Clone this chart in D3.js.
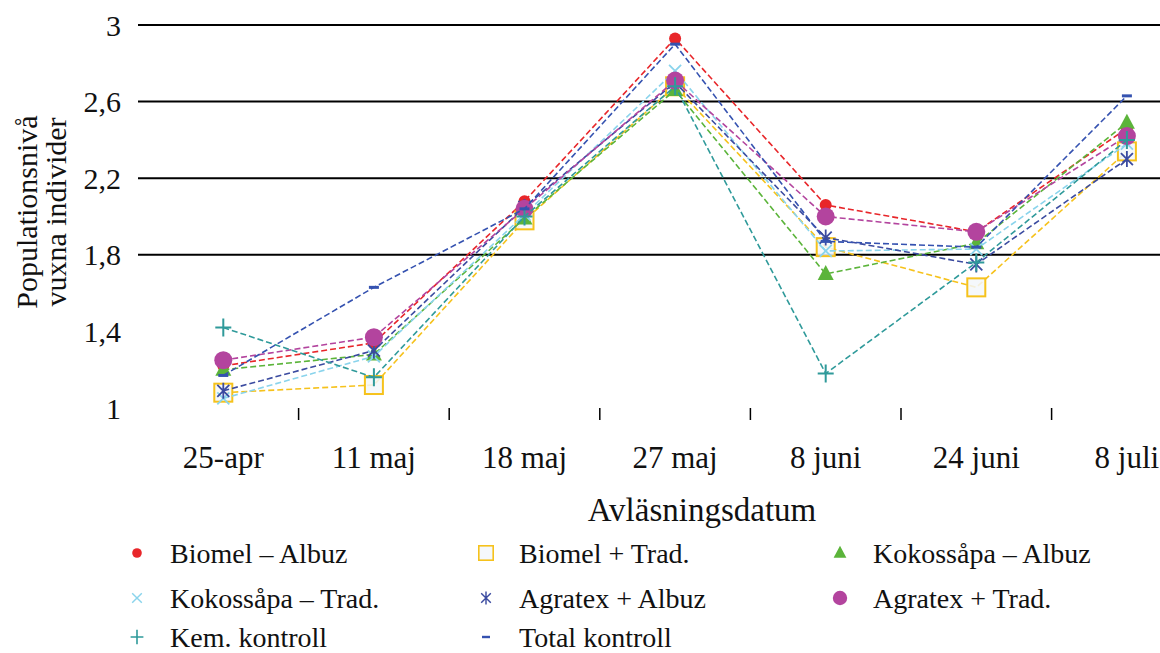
<!DOCTYPE html>
<html>
<head>
<meta charset="utf-8">
<script src="https://cdn.jsdelivr.net/npm/d3@7"></script>
<style>
  body { margin: 0; background: #fff; }
  svg text { font-family: "Liberation Serif", "Times New Roman", serif; fill: #111; }
</style>
</head>
<body>
<div id="chart"></div>
<script>
// Data
var dates = ["25-apr", "11 maj", "18 maj", "27 maj", "8 juni", "24 juni", "8 juli"];
var yTicks = [1, 1.4, 1.8, 2.2, 2.6, 3];
var gridValues = [1.8, 2.2, 2.6, 3];

var biomelAlbuz   = [1.22, 1.34, 2.08, 2.93, 2.06, 1.92, 2.46];
var biomelTrad    = [1.08, 1.12, 1.98, 2.68, 1.84, 1.63, 2.34];
var kokosAlbuz    = [1.20, 1.28, 1.99, 2.66, 1.70, 1.86, 2.49];
var kokosTrad     = [1.05, 1.27, 2.01, 2.76, 1.82, 1.83, 2.38];
var agratexAlbuz  = [1.09, 1.30, 2.05, 2.70, 1.89, 1.75, 2.30];
var agratexTrad   = [1.25, 1.37, 2.04, 2.71, 2.00, 1.92, 2.42];
var kemKontroll   = [1.42, 1.16, 2.00, 2.68, 1.18, 1.76, 2.40];
var totalKontroll = [1.17, 1.63, 2.04, 2.90, 1.87, 1.84, 2.63];

var seriesNames = ["Biomel \u2013 Albuz", "Biomel + Trad.", "Kokoss\u00e5pa \u2013 Albuz",
                   "Kokoss\u00e5pa \u2013 Trad.", "Agratex + Albuz", "Agratex + Trad.",
                   "Kem. kontroll", "Total kontroll"];
var seriesValues = [biomelAlbuz, biomelTrad, kokosAlbuz, kokosTrad,
                    agratexAlbuz, agratexTrad, kemKontroll, totalKontroll];
var seriesColors = ["#e8262a", "#f6c21c", "#5bb43a", "#8ad4ec",
                    "#3b4ba0", "#b3449e", "#2f9a9a", "#3552b0"];
var seriesMarkers = ["dot", "square", "triangle", "x", "star", "circle", "plus", "dash"];

var width = 1160, height = 653;

var svg = d3.select("#chart").append("svg")
    .attr("width", width)
    .attr("height", height);

// scales
var x = d3.scaleBand()
    .domain(dates)
    .range([148, 148 + 7 * 150.6])
    .paddingInner(0).paddingOuter(0);

var y = d3.scaleLinear()
    .domain([1, 3])
    .range([408, 25]);

var cx = function (d) { return x(d) + x.bandwidth() / 2; };

// gridlines (only the upper ones show in the original)
svg.append("g").selectAll("line")
    .data(gridValues)
    .enter().append("line")
    .attr("x1", 138).attr("x2", width)
    .attr("y1", d => y(d)).attr("y2", d => y(d))
    .attr("stroke", "#000")
    .attr("stroke-width", 2);

// y tick labels
svg.append("g").selectAll("text")
    .data(yTicks)
    .enter().append("text")
    .attr("x", 121)
    .attr("y", d => y(d))
    .attr("dy", "0.35em")
    .attr("text-anchor", "end")
    .style("font-size", "30px")
    .text(d => d3.format(".1~f")(d).replace(".", ","));

// x axis: ticks between categories, no domain line
var xAxis = d3.axisBottom(x).tickSize(0).tickPadding(0);
var xg = svg.append("g")
    .attr("transform", "translate(0,408)")
    .call(xAxis);
xg.select(".domain").remove();
xg.selectAll(".tick text")
    .attr("y", 60)
    .attr("dy", 0)
    .style("font-family", "Liberation Serif, serif")
    .style("font-size", "31px")
    .attr("fill", "#111");

svg.append("g").selectAll("line")
    .data(dates.slice(1))
    .enter().append("line")
    .attr("x1", d => x(d)).attr("x2", d => x(d))
    .attr("y1", 408).attr("y2", 420)
    .attr("stroke", "#000")
    .attr("stroke-width", 1.5);

// axis titles
svg.append("text")
    .attr("x", 702).attr("y", 521)
    .attr("text-anchor", "middle")
    .style("font-size", "33px")
    .text("Avl\u00e4sningsdatum");

var yTitle = svg.append("g")
    .attr("transform", "translate(0,212) rotate(-90)");
yTitle.append("text")
    .attr("x", 0).attr("y", 37)
    .attr("text-anchor", "middle")
    .style("font-size", "30px")
    .text("Populationsniv\u00e5");
yTitle.append("text")
    .attr("x", 0).attr("y", 66)
    .attr("text-anchor", "middle")
    .style("font-size", "30px")
    .text("vuxna individer");

// marker drawing
function drawMarker(g, type, color) {
    if (type === "dot") {
        g.append("circle").attr("r", 6).attr("fill", color);
    } else if (type === "circle") {
        g.append("circle").attr("r", 9).attr("fill", color);
    } else if (type === "square") {
        g.append("rect").attr("x", -9).attr("y", -9).attr("width", 18).attr("height", 18)
            .attr("fill", "#f3f7fa").attr("fill-opacity", 0.85)
            .attr("stroke", color).attr("stroke-width", 2);
    } else if (type === "triangle") {
        g.append("path").attr("d", "M0,-9L8,6L-8,6Z").attr("fill", color);
    } else if (type === "x") {
        g.append("path").attr("d", "M-6,-6L6,6M-6,6L6,-6")
            .attr("stroke", color).attr("stroke-width", 1.8);
    } else if (type === "star") {
        g.append("path").attr("d", "M-6,-6L6,6M-6,6L6,-6M0,-8L0,8")
            .attr("stroke", color).attr("stroke-width", 1.8);
    } else if (type === "plus") {
        g.append("path").attr("d", "M-8,0L8,0M0,-9L0,9")
            .attr("stroke", color).attr("stroke-width", 2);
    } else if (type === "dash") {
        g.append("rect").attr("x", -5).attr("y", -1.5).attr("width", 10).attr("height", 3)
            .attr("fill", color);
    }
}

// series lines + markers
var line = d3.line()
    .x((d, i) => cx(dates[i]))
    .y(d => y(d));

seriesValues.forEach(function (vals, s) {
    var g = svg.append("g").attr("class", "series");
    g.append("path")
        .datum(vals)
        .attr("d", line)
        .attr("fill", "none")
        .attr("stroke", seriesColors[s])
        .attr("stroke-width", 1.6)
        .attr("stroke-dasharray", "6,3");
    g.selectAll(".mk")
        .data(vals)
        .enter().append("g")
        .attr("class", "mk")
        .attr("transform", (d, i) => "translate(" + cx(dates[i]) + "," + y(d) + ")")
        .each(function () { drawMarker(d3.select(this), seriesMarkers[s], seriesColors[s]); });
});

// legend: 3 columns
var legCols = [137, 486, 840];
var legRows = [553, 598, 637];
var legend = svg.append("g").selectAll("g")
    .data(seriesNames)
    .enter().append("g")
    .attr("transform", (d, i) => "translate(" + legCols[i % 3] + "," + legRows[Math.floor(i / 3)] + ")");
legend.each(function (d, i) {
    var gm = d3.select(this).append("g").attr("transform", "scale(0.8)");
    drawMarker(gm, seriesMarkers[i], seriesColors[i]);
});
legend.append("text")
    .attr("x", 33)
    .attr("dy", "0.35em")
    .style("font-size", "28px")
    .text(d => d);
</script>
</body>
</html>
